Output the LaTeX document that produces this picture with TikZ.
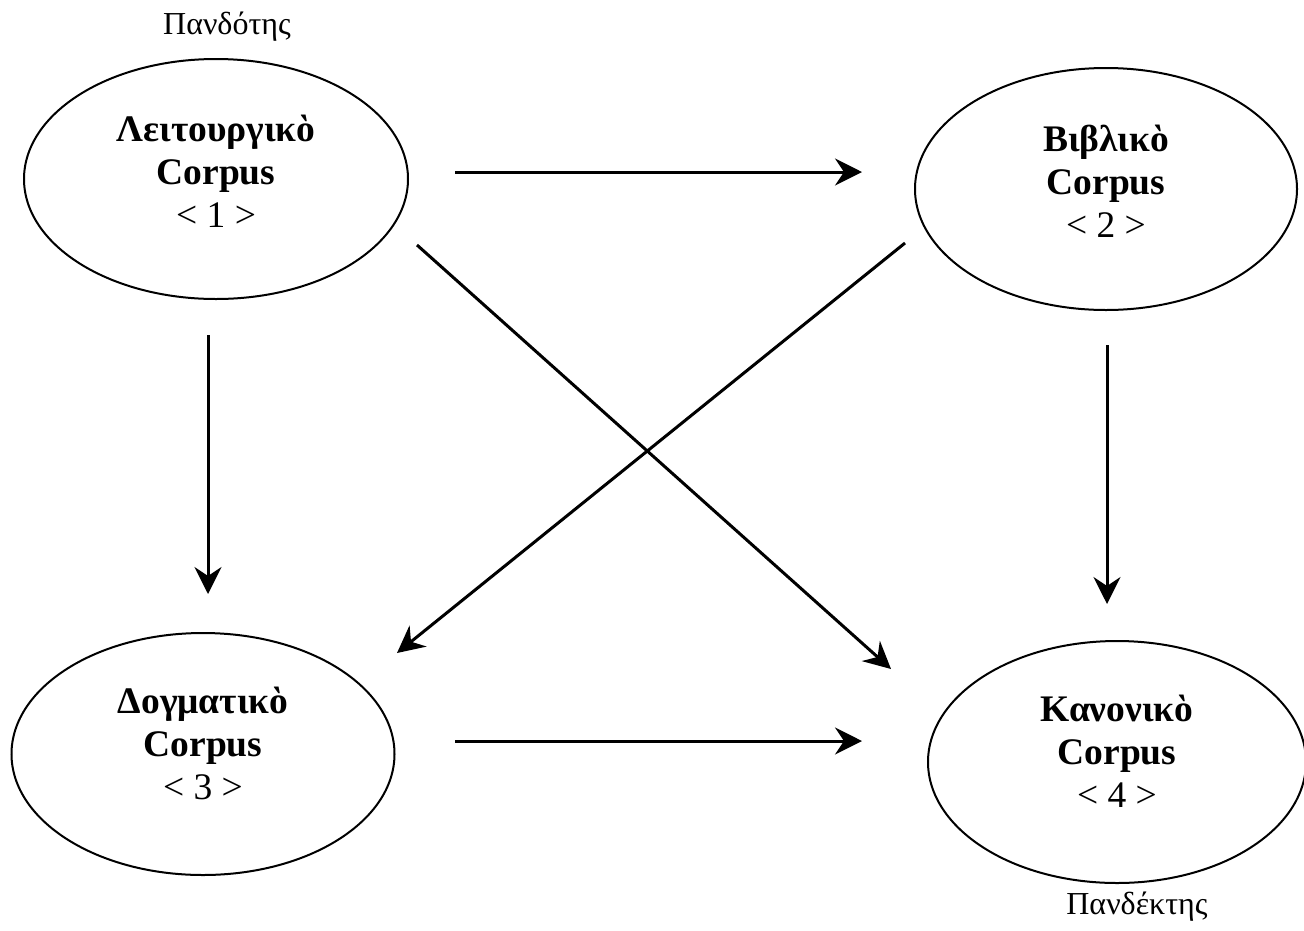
\documentclass[tikz,border=0pt]{standalone}
\usepackage{fontspec}
\setmainfont{Liberation Serif}
\usetikzlibrary{shapes.geometric,arrows.meta}
\begin{document}
\begin{tikzpicture}[x=1pt,y=-1pt,
  corpus/.style={draw,ellipse,line width=2pt,minimum width=384pt,minimum height=240pt,inner sep=0pt},
  ctext/.style={align=center,font=\fontsize{37.5}{43}\selectfont,inner sep=0pt},
  tag/.style={font=\fontsize{32}{36}\selectfont,inner sep=0pt},
  arr/.style={line width=3pt,-{Stealth[length=27pt,width=27pt,inset=9pt]}}]
\useasboundingbox (0,0) rectangle (1304,930);
\node[corpus] (e1) at (216,179) {};
\node[corpus,minimum width=382pt,minimum height=242pt] (e2) at (1106,189) {};
\node[corpus,minimum width=383pt,minimum height=242pt] (e3) at (203,754) {};
\node[corpus,minimum width=378pt,minimum height=242pt] (e4) at (1117,762) {};
\node[ctext] (t1) at (216,171) {\textbf{Λειτουργικὸ}\\\textbf{Corpus}\\< 1 >};
\node[ctext] (t2) at (1106,181) {\textbf{Βιβλικὸ}\\\textbf{Corpus}\\< 2 >};
\node[ctext] (t3) at (203,743) {\textbf{Δογματικὸ}\\\textbf{Corpus}\\< 3 >};
\node[ctext] (t4) at (1117,751) {\textbf{Κανονικὸ}\\\textbf{Corpus}\\< 4 >};
\node[tag] (l1) at (227,27) {Πανδότης};
\node[tag] (l4) at (1137,907) {Πανδέκτης};
\coordinate (a12s) at (455,172); \coordinate (a12e) at (862,172);
\coordinate (a13s) at (208,335); \coordinate (a13e) at (208,594);
\coordinate (a14s) at (417,245); \coordinate (a14e) at (891,669);
\coordinate (a23s) at (905,243); \coordinate (a23e) at (397,653);
\coordinate (a24s) at (1107,345); \coordinate (a24e) at (1107,604);
\coordinate (a34s) at (455,741); \coordinate (a34e) at (862,741);
\draw[arr] (a12s) -- (a12e);
\draw[arr] (a13s) -- (a13e);
\draw[arr] (a14s) -- (a14e);
\draw[arr] (a23s) -- (a23e);
\draw[arr] (a24s) -- (a24e);
\draw[arr] (a34s) -- (a34e);
\end{tikzpicture}
\end{document}
